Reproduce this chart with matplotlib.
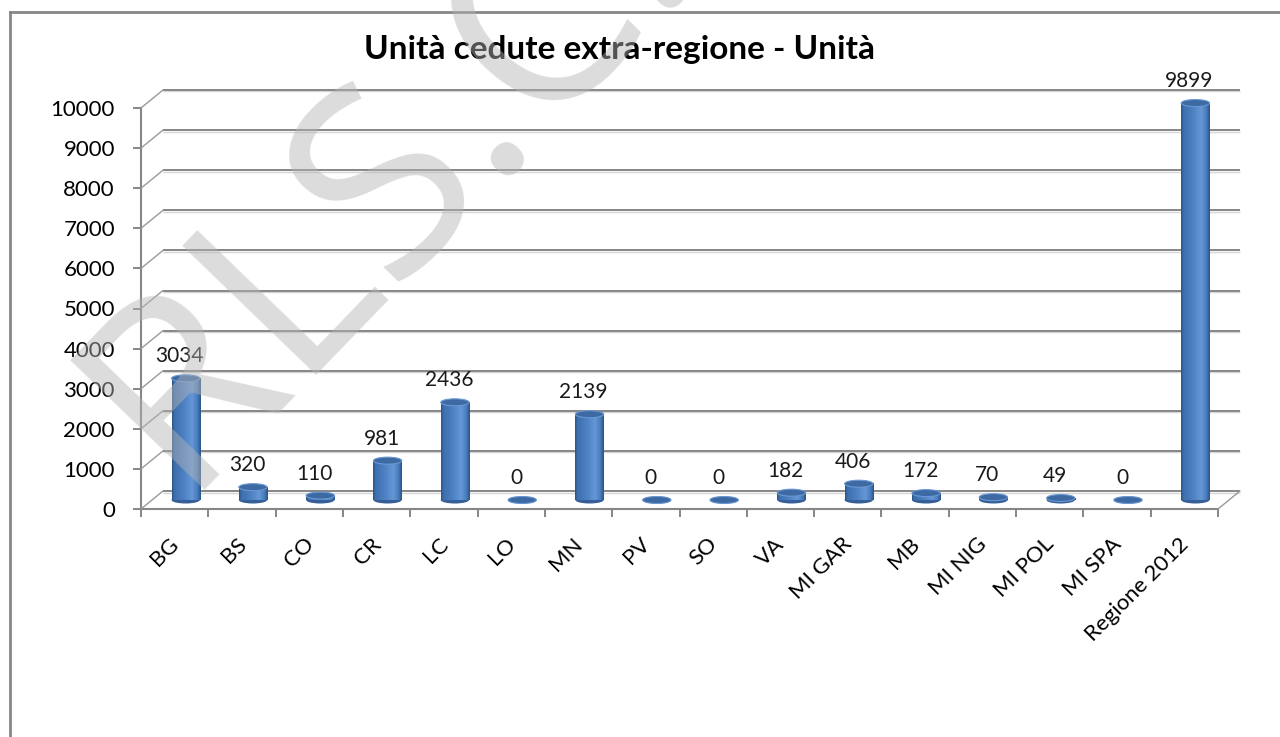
import numpy as np
import matplotlib
matplotlib.use("Agg")
import matplotlib.pyplot as plt
from matplotlib.patches import Ellipse
from matplotlib.lines import Line2D
from matplotlib.transforms import ScaledTranslation
from matplotlib.colors import LinearSegmentedColormap

# -------------------------------------------------------
# DATA
# -------------------------------------------------------

categories = ["BG", "BS", "CO", "CR", "LC", "LO", "MN", "PV", "SO", "VA",
              "MI GAR", "MB", "MI NIG", "MI POL", "MI SPA", "Regione 2012"]
values = [3034, 320, 110, 981, 2436, 0, 2139, 0, 0, 182,
          406, 172, 70, 49, 0, 9899]
y_ticks = list(range(0, 10001, 1000))

title = "Unità cedute extra-regione - Unità"
watermark = "RLS.C."

# -------------------------------------------------------
# STYLE
# -------------------------------------------------------

plt.rcParams['font.family'] = ['Lato', 'DejaVu Sans']

DPI = 100
W, H = 1280, 737
grid_col = '#868686'
depth = (22, 18)          # pixels, back wall offset
bar_w = 0.42              # in category units
ell_px = 7                # cylinder cap height in pixels

cyl_cmap = LinearSegmentedColormap.from_list(
    "cyl",
    [(0.0, '#2b5586'), (0.08, '#3e6fae'), (0.45, '#4f84c6'),
     (0.7, '#6597d6'), (0.88, '#4b7dbd'), (1.0, '#2b5586')]
)

# -------------------------------------------------------
# FIGURE
# -------------------------------------------------------

fig = plt.figure(figsize=(W / DPI, H / DPI), dpi=DPI)
ax = fig.add_axes([141 / W, 228 / H, 1077 / W, 401 / H])

back = ax.transData + ScaledTranslation(depth[0] / DPI, depth[1] / DPI,
                                        fig.dpi_scale_trans)
mid = ax.transData + ScaledTranslation(depth[0] / 2 / DPI, depth[1] / 2 / DPI,
                                       fig.dpi_scale_trans)
shadow = back + ScaledTranslation(0, -1.5 / DPI, fig.dpi_scale_trans)

x_lo, x_hi = -0.5, len(categories) - 0.5

# back wall gridlines
ax.hlines(y_ticks, x_lo, x_hi, colors='#d6d6d6', lw=1.0,
          transform=shadow, clip_on=False, zorder=1)
ax.hlines(y_ticks, x_lo, x_hi, colors=grid_col, lw=1.4,
          transform=back, clip_on=False, zorder=1)

# side diagonals
for v in y_ticks:
    ax.annotate('', xy=(x_lo, v), xycoords=back, xytext=(x_lo, v),
                textcoords='data', annotation_clip=False,
                arrowprops=dict(arrowstyle='-', color='#9a9a9a', lw=1.0,
                                shrinkA=0, shrinkB=0))
ax.annotate('', xy=(x_hi, 0), xycoords=back, xytext=(x_hi, 0),
            textcoords='data', annotation_clip=False,
            arrowprops=dict(arrowstyle='-', color='#9a9a9a', lw=1.0,
                            shrinkA=0, shrinkB=0))

# cylinders
ax_h_px = 401
ell_h = ell_px / (ax_h_px / 10000)
grad = np.linspace(0, 1, 64)[None, :]

for i, v in enumerate(values):
    x0 = i - bar_w / 2
    ax.add_patch(Ellipse((i, 0), bar_w, ell_h, facecolor='#355f96',
                         edgecolor='none', transform=mid, zorder=3,
                         clip_on=False))
    if v > 0:
        im = ax.imshow(grad, cmap=cyl_cmap, extent=[x0, x0 + bar_w, 0, v],
                       aspect='auto', transform=mid, zorder=4,
                       interpolation='bilinear')
        im.set_clip_on(False)
    ax.add_patch(Ellipse((i, v), bar_w, ell_h, facecolor='#3e6aa4',
                         edgecolor='#6a98d2', lw=0.8, transform=mid,
                         zorder=5, clip_on=False))
    ax.annotate(f"{v}", xy=(i, v), xycoords=mid, xytext=(-6, 22),
                textcoords='offset pixels', ha='center', va='center',
                fontsize=15, color='#1a1a1a',
                annotation_clip=False, zorder=6)

ax.set_xlim(x_lo, x_hi)
ax.set_ylim(0, 10000)

# axes styling
for side in ['top', 'right']:
    ax.spines[side].set_visible(False)
for side in ['left', 'bottom']:
    ax.spines[side].set_color(grid_col)
    ax.spines[side].set_linewidth(1.5)

ax.set_yticks(y_ticks)
ax.tick_params(axis='y', length=5.8, width=1.4, color=grid_col,
               pad=13, labelsize=16, labelcolor='black')

ax.set_xticks(np.arange(len(categories) + 1) - 0.5)
ax.set_xticklabels([])
ax.tick_params(axis='x', which='major', length=5.5, width=1.4,
               color=grid_col)
ax.set_xticks(range(len(categories)), categories, minor=True)
ax.tick_params(axis='x', which='minor', length=0, pad=18, labelsize=16)
shift_left = ScaledTranslation(-6 / DPI, 0, fig.dpi_scale_trans)
for lab in ax.get_xticklabels(minor=True):
    lab.set_rotation(45)
    lab.set_ha('right')
    lab.set_rotation_mode('anchor')
    lab.set_transform(lab.get_transform() + shift_left)

# chart border
fig.add_artist(Line2D([10 / W, 10 / W], [0, 1 - 12 / H],
                      transform=fig.transFigure, color=grid_col, lw=2))
fig.add_artist(Line2D([10 / W, 1], [1 - 12 / H, 1 - 12 / H],
                      transform=fig.transFigure, color=grid_col, lw=2))

# title
fig.text(620 / W, 1 - 59 / H, title, ha='center', va='baseline',
         fontsize=24, fontweight='bold')

# watermark
fig.text(180 / W, 1 - 490 / H, watermark, rotation=46,
         rotation_mode='anchor', ha='left', va='baseline', fontsize=188,
         color='#b4b4b4', alpha=0.47, family='Open Sans', zorder=10)

fig.savefig("out.png", dpi=DPI)
